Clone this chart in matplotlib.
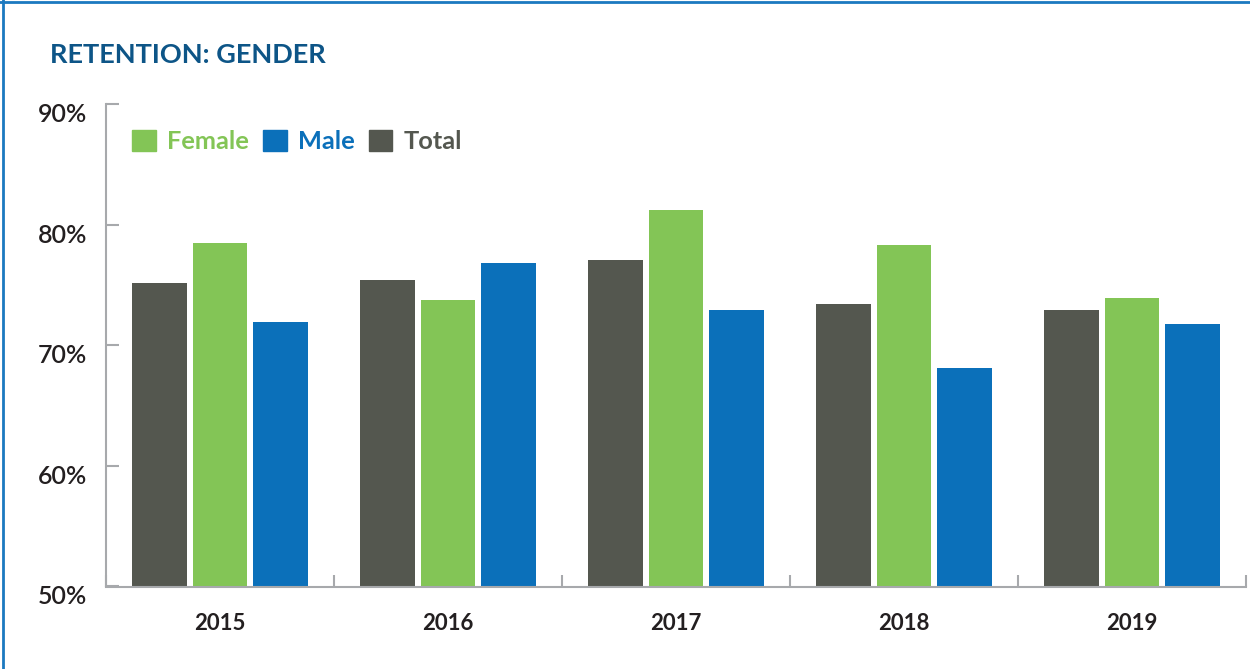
import numpy as np
import matplotlib
matplotlib.use('Agg')
import matplotlib.pyplot as plt
from matplotlib.lines import Line2D
from matplotlib.patches import Patch
from matplotlib.transforms import ScaledTranslation

plt.rcParams['font.family'] = ['Lato', 'DejaVu Sans']

years = ['2015', '2016', '2017', '2018', '2019']
total = [75.2, 75.4, 77.1, 73.4, 72.9]
female = [78.5, 73.8, 81.2, 78.3, 73.9]
male = [71.9, 76.8, 72.9, 68.1, 71.8]
yticks = [50, 60, 70, 80, 90]

c_total = '#54574f'
c_female = '#83c556'
c_male = '#0b70ba'
c_title = '#0d5587'
c_axis = '#a7a9ac'
c_text = '#231f20'

fig = plt.figure(figsize=(12.5, 6.69), dpi=100)
ax = fig.add_axes([106 / 1250, 1 - 586.5 / 669, 1140 / 1250, (586.5 - 104.3) / 669])

x = np.arange(len(years))
w = 0.241
off = 0.265
ax.bar(x - off, total, w, color=c_total)
ax.bar(x, female, w, color=c_female)
ax.bar(x + off, male, w, color=c_male)

ax.set_xlim(-0.5, len(years) - 0.5)
ax.set_ylim(50, 90)

for s in ['top', 'right']:
    ax.spines[s].set_visible(False)
for s in ['left', 'bottom']:
    ax.spines[s].set_color(c_axis)
    ax.spines[s].set_linewidth(1.5)

ax.set_yticks(yticks)
ax.set_yticklabels(['%d%%' % v for v in yticks], fontweight='semibold')
ax.tick_params(axis='y', direction='in', length=9.4, width=1.5, color=c_axis,
               pad=13.7, labelsize=18, labelcolor=c_text)
for lab in ax.get_yticklabels():
    lab.set_transform(lab.get_transform() + ScaledTranslation(0, -8.5 / 100, fig.dpi_scale_trans))

ax.set_xticks(x)
ax.set_xticklabels(years, fontweight='bold')
ax.set_xticks(np.arange(len(years) + 1) - 0.5, minor=True)
ax.tick_params(axis='x', which='major', length=0, pad=19, labelsize=16, labelcolor=c_text)
ax.tick_params(axis='x', which='minor', direction='in', length=8.6, width=1.5, color=c_axis)

fig.text(50 / 1250, 1 - 63 / 669, 'RETENTION: GENDER', fontsize=19.5, fontweight='bold',
         color=c_title, va='baseline', ha='left')

handles = [Patch(color=c_female), Patch(color=c_male), Patch(color=c_total)]
leg = ax.legend(handles, ['Female', 'Male', 'Total'], ncol=3, loc='center left',
                bbox_to_anchor=(132 / 1250, 1 - 141.5 / 669), bbox_transform=fig.transFigure,
                frameon=False, fontsize=18.3, handlelength=0.93, handleheight=0.93,
                handletextpad=0.45, columnspacing=0.55, borderpad=0, borderaxespad=0)
for t, c in zip(leg.get_texts(), [c_female, c_male, c_total]):
    t.set_color(c)
    t.set_fontweight('bold')

# frame lines on top and left edges
fig.add_artist(Line2D([0, 1], [1 - 2 / 669, 1 - 2 / 669], transform=fig.transFigure,
                      color='#1b79c0', linewidth=2))
fig.add_artist(Line2D([3 / 1250, 3 / 1250], [0, 1], transform=fig.transFigure,
                      color='#1b79c0', linewidth=2))

fig.savefig('out.png', dpi=100, facecolor='white')
